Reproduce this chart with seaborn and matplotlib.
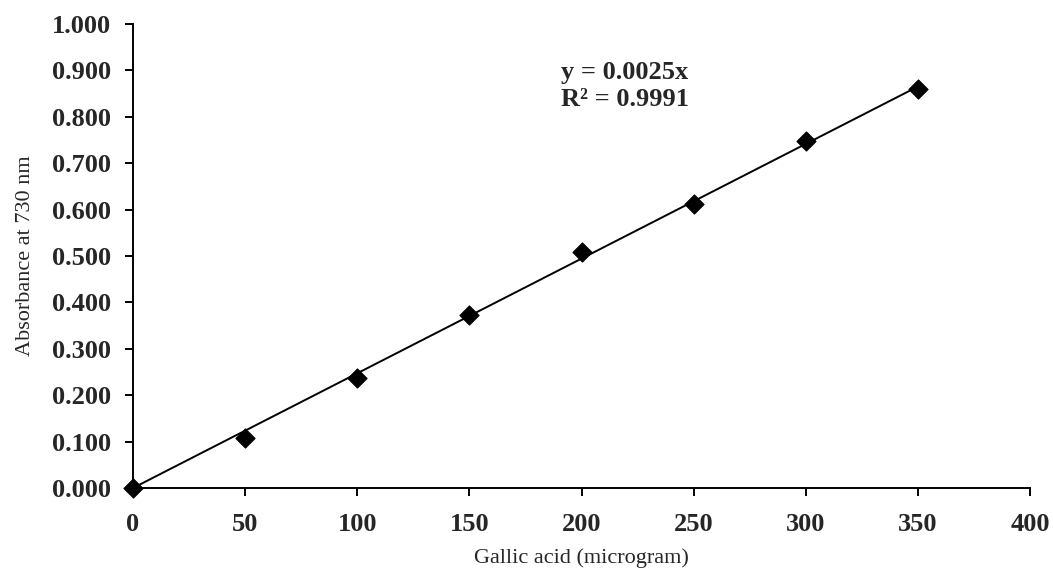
import numpy as np
import pandas as pd
import seaborn as sns
import matplotlib
matplotlib.use('agg')
import matplotlib.pyplot as plt

# standard curve values
gallic_ug = [0, 50, 100, 150, 200, 250, 300, 350]
absorbance = [0.000, 0.108, 0.237, 0.373, 0.509, 0.612, 0.748, 0.860]
x_ticks = [0, 50, 100, 150, 200, 250, 300, 350, 400]
y_ticks = [0.0, 0.1, 0.2, 0.3, 0.4, 0.5, 0.6, 0.7, 0.8, 0.9, 1.0]
eq_text = 'y = 0.0025x\nR² = 0.9991'

sns.set_style('white')
plt.rcParams['font.family'] = ['Liberation Serif', 'DejaVu Serif']

df = pd.DataFrame({'x': gallic_ug, 'y': absorbance})
# linear fit forced through origin
slope = (df.x * df.y).sum() / (df.x ** 2).sum()
fit = pd.DataFrame({'x': [min(gallic_ug), max(gallic_ug)]})
fit['y'] = slope * fit.x

fig = plt.figure(figsize=(10.53, 5.82), dpi=100)
ax = fig.add_axes([0.1263, 0.1615, 0.852, 0.7973])

sns.lineplot(data=fit, x='x', y='y', color='black', linewidth=1.4, ax=ax)
sns.scatterplot(data=df, x='x', y='y', marker='D', s=95, color='black',
                edgecolor='black', clip_on=False, zorder=3, ax=ax)

ax.set_xlim(0, 400)
ax.set_ylim(0, 1.0)
ax.set_xticks(x_ticks)
ax.set_yticks(y_ticks)
ax.set_xticklabels([str(v) for v in x_ticks], fontsize=19, fontweight='bold')
ax.set_yticklabels(['{:.3f}'.format(v) for v in y_ticks], fontsize=19, fontweight='bold')
ax.tick_params(axis='x', direction='out', length=6, width=1.4, color='black',
               bottom=True, pad=12)
ax.tick_params(axis='y', direction='out', length=6, width=1.4, color='black',
               left=True, pad=10)

for side in ['top', 'right']:
    ax.spines[side].set_visible(False)
for side in ['left', 'bottom']:
    ax.spines[side].set_color('black')
    ax.spines[side].set_linewidth(1.4)

ax.set_xlabel('Gallic acid (microgram)', fontsize=16, labelpad=9)
ax.set_ylabel('Absorbance at 730 nm', fontsize=16, labelpad=12)

ax.text(191, 0.866, eq_text, fontsize=19, fontweight='bold',
        ha='left', va='center', linespacing=1.2)

fig.savefig('out.png', dpi=100)
